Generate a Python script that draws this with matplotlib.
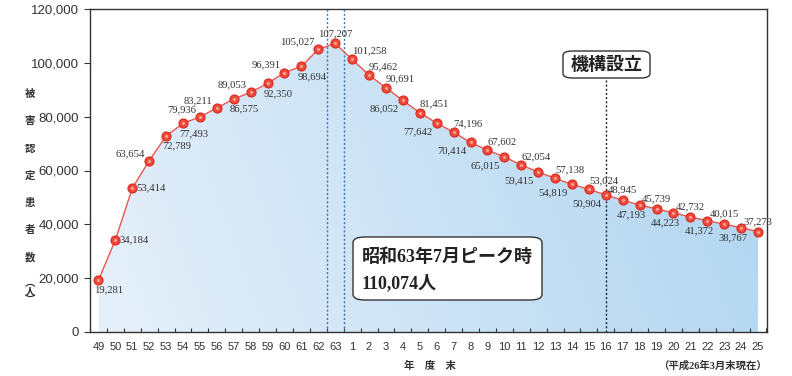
import numpy as np
import matplotlib
matplotlib.use('Agg')
import matplotlib.pyplot as plt
from matplotlib.colors import to_rgb
from matplotlib.patches import FancyBboxPatch

# --- data ------------------------------------------------------------------
years = ['49', '50', '51', '52', '53', '54', '55', '56', '57', '58', '59', '60',
         '61', '62', '63'] + [str(i) for i in range(1, 26)]
patients = [19281, 34184, 53414, 63654, 72789, 77493, 79936, 83211, 86575, 89053,
            92350, 96391, 98694, 105027, 107207,
            101258, 95462, 90691, 86052, 81451, 77642, 74196, 70414, 67602, 65015,
            62054, 59415, 57138, 54819, 53024, 50904, 48945, 47193, 45739, 44223,
            42732, 41372, 40015, 38767, 37273]
peak_idx = years.index('63')
founded_idx = 30          # 平成16年度
y_ticks = [0, 20000, 40000, 60000, 80000, 100000, 120000]

# label placement per point
places = ['br', 'r', 'r', 'al', 'br', 'br', 'al', 'al', 'br', 'al', 'br', 'al',
          'br', 'al', 'a',
          'ar', 'ar', 'ar', 'bl', 'ar', 'bl', 'ar', 'bl', 'ar', 'bl', 'ar', 'bl',
          'ar', 'bl', 'ar', 'bl', 'a', 'bw', 'a', 'bw', 'a', 'bw', 'a', 'bw', 'a']
PLACE = {
    'a':  (0, 4, 'center', 'bottom'),
    'b':  (0, -4, 'center', 'top'),
    'bw': (-6, -4, 'center', 'top'),
    'al': (-3, 2, 'right', 'bottom'),
    'ar': (0, 3, 'left', 'bottom'),
    'bl': (-3, -3, 'right', 'top'),
    'br': (-3, -4, 'left', 'top'),
    'r':  (3, 0, 'left', 'center'),
}

plt.rcParams['font.family'] = ['Liberation Sans', 'Noto Sans CJK JP']
W, H = 792, 376
fig = plt.figure(figsize=(W / 100, H / 100), dpi=100)
ax = fig.add_axes([90 / W, 1 - 332 / H, (767 - 90) / W, (332 - 9) / H])

x = np.arange(len(years))
y = np.array(patients)

# gradient fill under the line
ax.set_xlim(-0.41, len(years) - 0.47)
ax.set_ylim(0, 120000)
c_left = np.array(to_rgb('#e6f0fa'))
c_right = np.array(to_rgb('#aed4f0'))
gx = np.linspace(0, 1, 200)
gy = np.linspace(0, 1, 100)[:, None]
t = np.clip(gx[None, :] * 0.85 + (1 - gy) * 0.15, 0, 1)
grad = c_left[None, None, :] * (1 - t[..., None]) + c_right[None, None, :] * t[..., None]
img = ax.imshow(grad, extent=[0, x[-1], 0, 120000], origin='upper',
                aspect='auto', zorder=1)
poly = ax.fill_between(x, y, 0, color='none', zorder=1)
img.set_clip_path(poly.get_paths()[0], transform=ax.transData)

# reference lines
for xv in (peak_idx - 0.5, peak_idx + 0.5):
    ax.axvline(xv, color='#3a78b8', lw=1.0, ls=(0, (1.5, 1.5)), zorder=2)
ax.plot([founded_idx, founded_idx], [0, 95500], color='#222222', lw=1.0,
        ls=(0, (1.5, 1.5)), zorder=2)

# line + markers
ax.plot(x, y, color='#ee5550', lw=1.0, zorder=3)
ax.plot(x, y, 'o', ms=6.5, mfc='#f04a3c', mec='#d8281c', mew=0.8, zorder=4)
ax.plot(x, y, 'o', ms=2.2, mfc='#f9a594', mec='none', zorder=5)

for xi, yi, p in zip(x, y, places):
    dx, dy, ha, va = PLACE[p]
    ax.annotate(f'{yi:,}', (xi, yi), xytext=(dx, dy), textcoords='offset points',
                ha=ha, va=va, fontsize=7.7, color='#333333',
                family=['Liberation Serif'], zorder=6)

# axes styling
for s in ax.spines.values():
    s.set_color('#333333')
    s.set_linewidth(1.0)
ax.set_yticks(y_ticks)
ax.set_yticklabels([f'{v:,}' for v in y_ticks], fontsize=9.5, color='#333333')
ax.tick_params(axis='y', direction='out', length=4, width=0.8, pad=4, colors='#333333')
ax.set_xticks(np.arange(-0.5, len(years) - 0.4, 1.0))
ax.set_xticklabels([])
ax.tick_params(axis='x', which='major', direction='in', length=3, width=0.8, colors='#333333')
ax.set_xticks(x, minor=True)
ax.set_xticklabels(years, minor=True, fontsize=8, color='#333333')
ax.tick_params(axis='x', which='minor', length=0, pad=7)

# annotation boxes
def fx(px):
    return px / W

def fy(py):
    return 1 - py / H

box1 = FancyBboxPatch((fx(563), fy(78)), fx(650) - fx(563), fy(51) - fy(78),
                      boxstyle='round,pad=0,rounding_size=0.012',
                      transform=fig.transFigure, fc='white', ec='#333333', lw=1.0,
                      zorder=10)
fig.patches.append(box1)
fig.text(fx(606.5), fy(64.5), '機構設立', ha='center', va='center', fontsize=13,
         fontweight='bold', color='#222222', family=['Noto Sans CJK JP'], zorder=11)

box2 = FancyBboxPatch((fx(353), fy(300)), fx(542) - fx(353), fy(237) - fy(300),
                      boxstyle='round,pad=0,rounding_size=0.015',
                      transform=fig.transFigure, fc='white', ec='#333333', lw=1.0,
                      zorder=10)
fig.patches.append(box2)
fig.text(fx(362), fy(257), '昭和63年7月ピーク時', ha='left', va='center', fontsize=13,
         fontweight='bold', color='#222222', family=['Liberation Serif', 'Noto Sans CJK JP'],
         zorder=11)
fig.text(fx(362), fy(283), '110,074人', ha='left', va='center', fontsize=13,
         fontweight='bold', color='#222222', family=['Liberation Serif', 'Noto Sans CJK JP'],
         zorder=11)

# axis titles
ylab = '被害認定患者数'
for i, ch in enumerate(ylab):
    fig.text(fx(30), fy(94 + i * 27.3), ch, ha='center', va='center', fontsize=7.5,
             fontweight='bold', color='#333333', family=['Noto Sans CJK JP'])
for ch, py in zip('︵人︶', (283, 292, 301)):
    fig.text(fx(30), fy(py), ch, ha='center', va='center', fontsize=7.5,
             fontweight='bold', color='#333333', family=['Noto Sans CJK JP'])

fig.text(fx(430), fy(366), '年　度　末', ha='center', va='center', fontsize=7.5,
         fontweight='bold', color='#333333', family=['Noto Sans CJK JP'])
fig.text(fx(767), fy(366), '（平成26年3月末現在）', ha='right', va='center', fontsize=7.5,
         fontweight='bold', color='#333333', family=['Liberation Serif', 'Noto Sans CJK JP'])

fig.savefig('out.png', dpi=100)
